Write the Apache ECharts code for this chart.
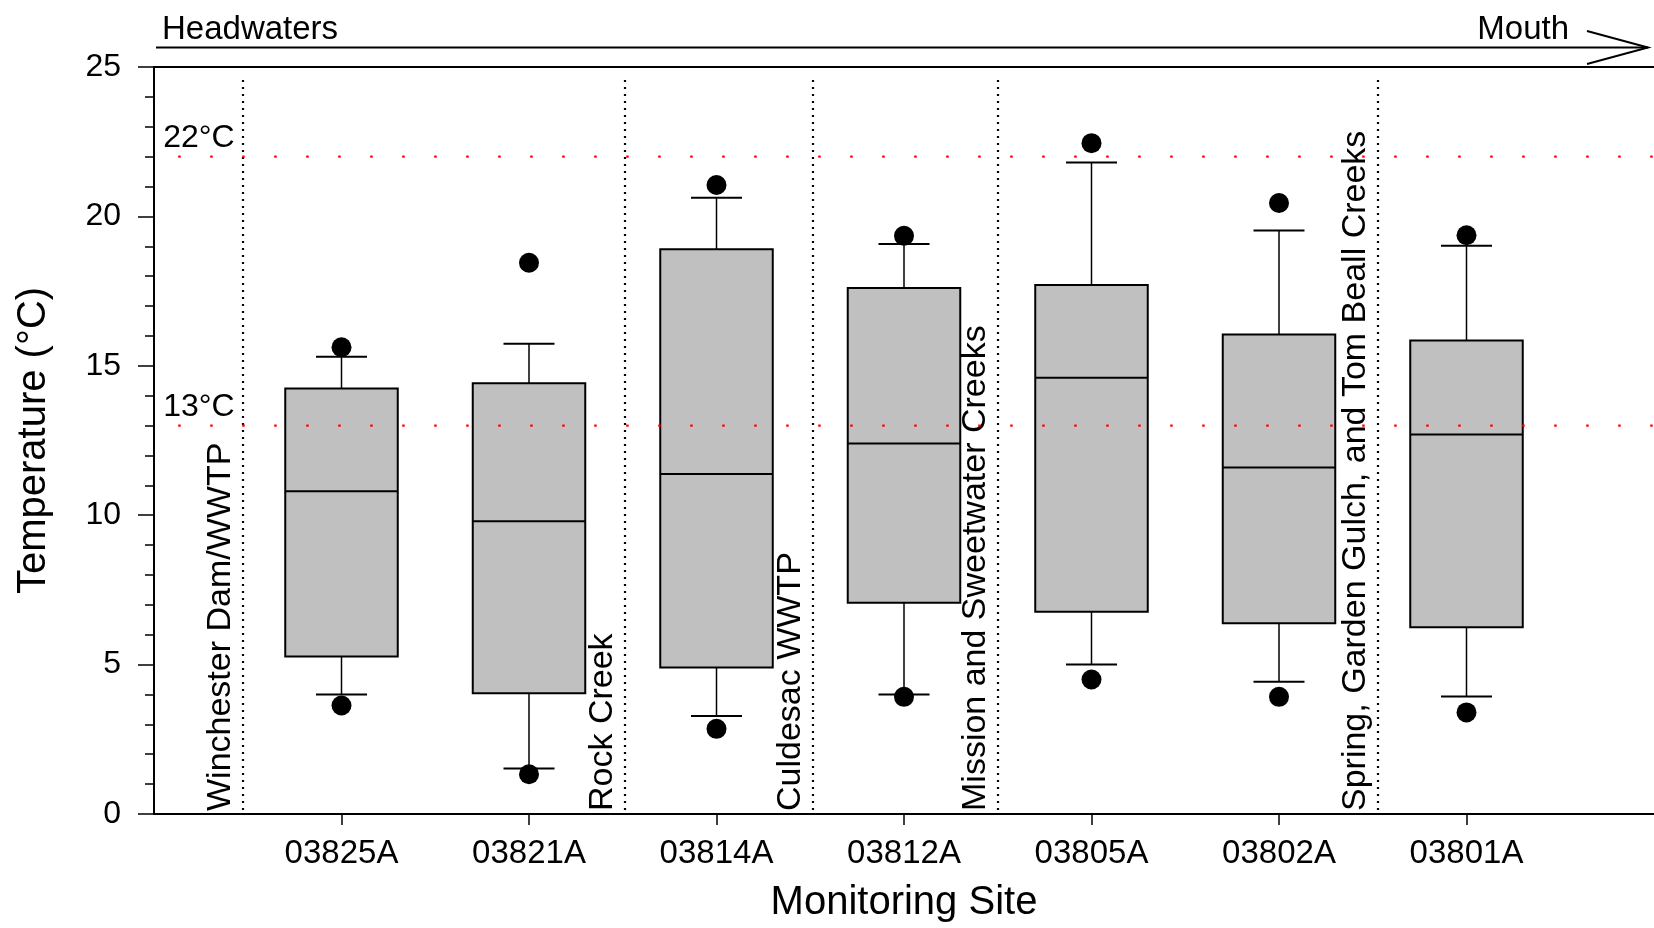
<!DOCTYPE html>
<html>
<head>
<meta charset="utf-8">
<title>Temperature by Monitoring Site</title>
<script src="https://cdn.jsdelivr.net/npm/echarts@6.0.0/dist/echarts.min.js"></script>
<style>
  html, body { margin: 0; padding: 0; background: #ffffff; }
  #chart { width: 1654px; height: 928px; }
</style>
</head>
<body>
<div id="chart"></div>
<script>
// Monitoring sites, ordered from headwaters to mouth
const sites = ['03825A', '03821A', '03814A', '03812A', '03805A', '03802A', '03801A'];

// Temperature summary (°C) for each site
const lowerDots   = [3.63, 1.33, 2.85, 3.92, 4.50, 3.92, 3.40];
const whiskerLow  = [4.00, 1.52, 3.28, 4.00, 5.00, 4.43, 3.93];
const quartile1   = [5.27, 4.04, 4.90, 7.07, 6.77, 6.38, 6.25];
const medians     = [10.80, 9.80, 11.38, 12.40, 14.60, 11.60, 12.70];
const quartile3   = [14.24, 14.42, 18.90, 17.60, 17.70, 16.05, 15.85];
const whiskerHigh = [15.30, 15.74, 20.62, 19.08, 21.80, 19.53, 19.02];
const upperDots   = [15.62, 18.45, 21.05, 19.35, 22.45, 20.45, 19.37];

// Tributaries / inputs entering between sites (position along the site axis)
const dividerPositions = [-0.523, 1.512, 2.513, 3.499, 5.530];
const dividerLabels = [
  'Winchester Dam/WWTP',
  'Rock Creek',
  'Culdesac WWTP',
  'Mission and Sweetwater Creeks',
  'Spring, Garden Gulch, and Tom Beall Creeks'
];

// Temperature criteria (°C)
const thresholds = [13, 22];

// Axis settings
const yTicks = [0, 5, 10, 15, 20, 25];
const X_MIN = -1, X_MAX = 7;
const THRESH_START = -0.871;

const FONT = "'Liberation Sans', Arial, Helvetica, sans-serif";
const BOX_W = 0.6;
const CAP_W = 0.272;

const chart = echarts.init(document.getElementById('chart'), null, { renderer: 'canvas' });

const boxData = sites.map((s, i) => [i, whiskerLow[i], quartile1[i], medians[i], quartile3[i], whiskerHigh[i]]);
const dotData = [];
sites.forEach((s, i) => { dotData.push([i, lowerDots[i]]); dotData.push([i, upperDots[i]]); });

function renderBox(params, api) {
  const i = api.value(0);
  const half = api.size([BOX_W, 0])[0] / 2;
  const capHalf = api.size([CAP_W, 0])[0] / 2;
  const pWl = api.coord([i, api.value(1)]);
  const pQ1 = api.coord([i, api.value(2)]);
  const pMed = api.coord([i, api.value(3)]);
  const pQ3 = api.coord([i, api.value(4)]);
  const pWh = api.coord([i, api.value(5)]);
  const cx = pMed[0];
  const thin = { stroke: '#000', lineWidth: 1.5 };
  const cap = { stroke: '#000', lineWidth: 2 };
  return {
    type: 'group',
    children: [
      { type: 'line', shape: { x1: cx, y1: pQ3[1], x2: cx, y2: pWh[1] }, style: thin },
      { type: 'line', shape: { x1: cx, y1: pQ1[1], x2: cx, y2: pWl[1] }, style: thin },
      { type: 'line', shape: { x1: cx - capHalf, y1: pWh[1], x2: cx + capHalf, y2: pWh[1] }, style: cap },
      { type: 'line', shape: { x1: cx - capHalf, y1: pWl[1], x2: cx + capHalf, y2: pWl[1] }, style: cap },
      { type: 'rect', shape: { x: cx - half, y: pQ3[1], width: 2 * half, height: pQ1[1] - pQ3[1] },
        style: { fill: '#c0c0c0', stroke: '#000', lineWidth: 2 } },
      { type: 'line', shape: { x1: cx - half, y1: pMed[1], x2: cx + half, y2: pMed[1] }, style: { stroke: '#000', lineWidth: 2 } }
    ]
  };
}

function renderDivider(params, api) {
  const pos = api.value(0);
  const k = api.value(1);
  const bottom = api.coord([pos, 0]);
  const top = api.coord([pos, 24.7]);
  const lx = Math.round(bottom[0]);
  return {
    type: 'group',
    children: [
      { type: 'line', shape: { x1: lx, y1: bottom[1] - 4, x2: lx, y2: top[1] },
        style: { stroke: '#000', lineWidth: 2.2, lineDash: [2, 5], lineCap: 'butt' } },
      { type: 'text', x: lx - 22.5, y: bottom[1] - 3, rotation: Math.PI / 2,
        style: { text: dividerLabels[k], fontSize: 34, fontFamily: FONT, fill: '#000',
                 align: 'left', verticalAlign: 'middle', textAlign: 'left', textVerticalAlign: 'middle' } }
    ]
  };
}

function renderThreshold(params, api) {
  const t = api.value(1);
  const start = api.coord([api.value(0), t]);
  const end = api.coord([api.value(2), t]);
  return {
    type: 'group',
    children: [
      { type: 'line', shape: { x1: start[0], y1: start[1], x2: end[0], y2: end[1] },
        style: { stroke: '#ff0000', lineWidth: 2.2, lineDash: [2.5, 29.5], lineCap: 'butt' } },
      { type: 'text', x: start[0] - 15, y: start[1] - 18.5,
        style: { text: t + '°C', fontSize: 32, fontFamily: FONT, fill: '#000',
                 align: 'left', verticalAlign: 'middle', textAlign: 'left', textVerticalAlign: 'middle' } }
    ]
  };
}

const option = {
  animation: false,
  backgroundColor: '#ffffff',
  textStyle: { fontFamily: FONT },
  grid: { left: 154, top: 67, width: 1502.4, height: 750, containLabel: false },
  xAxis: [
    {
      type: 'value', min: X_MIN, max: X_MAX, interval: 1,
      name: 'Monitoring Site', nameLocation: 'middle', nameGap: 69,
      nameTextStyle: { fontSize: 40, color: '#000', fontFamily: FONT },
      axisLine: { show: true, onZero: false, lineStyle: { color: '#000', width: 2 } },
      axisTick: { show: true, length: 11, customValues: sites.map((s, i) => i), lineStyle: { color: '#000', width: 1.5 } },
      axisLabel: { show: true, margin: 23, fontSize: 33, color: '#000', fontFamily: FONT,
                   customValues: sites.map((s, i) => i),
                   formatter: (v) => { const i = Math.round(v); return (i >= 0 && i < sites.length) ? sites[i] : ''; } },
      splitLine: { show: false }
    },
    {
      type: 'value', position: 'top', min: X_MIN, max: X_MAX,
      axisLine: { show: true, onZero: false, lineStyle: { color: '#000', width: 2 } },
      axisTick: { show: false }, axisLabel: { show: false }, splitLine: { show: false }
    }
  ],
  yAxis: {
    type: 'value', min: yTicks[0], max: yTicks[yTicks.length - 1], interval: 5,
    name: 'Temperature (°C)', nameLocation: 'middle', nameGap: 100,
    nameTextStyle: { fontSize: 40, color: '#000', fontFamily: FONT },
    axisLine: { show: true, onZero: false, lineStyle: { color: '#000', width: 2 } },
    axisTick: { show: true, length: 16, lineStyle: { color: '#000', width: 1.5 } },
    minorTick: { show: true, splitNumber: 5, length: 9, lineStyle: { color: '#000', width: 1.5 } },
    axisLabel: { margin: 33, fontSize: 32, color: '#000', fontFamily: FONT },
    splitLine: { show: false }
  },
  series: [
    {
      type: 'custom', name: 'boxes', renderItem: renderBox, data: boxData, z: 2,
      encode: { x: 0, y: [1, 2, 3, 4, 5] }, silent: true
    },
    {
      type: 'scatter', name: 'extremes', data: dotData, symbol: 'circle', symbolSize: 20, z: 3,
      itemStyle: { color: '#000', opacity: 1 }, silent: true
    },
    {
      type: 'custom', name: 'inputs', renderItem: renderDivider, z: 4, silent: true,
      data: dividerPositions.map((p, k) => [p, k]), encode: { x: 0, y: 1 }
    },
    {
      type: 'custom', name: 'criteria', renderItem: renderThreshold, z: 5, silent: true,
      data: thresholds.map((t) => [THRESH_START, t, X_MAX]), encode: { x: [0, 2], y: 1 }
    }
  ],
  graphic: [
    { type: 'text', x: 162, y: 30, style: { text: 'Headwaters', fontSize: 33, fontFamily: FONT, fill: '#000', align: 'left', verticalAlign: 'middle' } },
    { type: 'text', x: 1569, y: 30, style: { text: 'Mouth', fontSize: 33, fontFamily: FONT, fill: '#000', align: 'right', verticalAlign: 'middle' } },
    { type: 'line', shape: { x1: 156, y1: 47.5, x2: 1648, y2: 47.5 }, style: { stroke: '#000', lineWidth: 2 } },
    { type: 'polyline', shape: { points: [[1587, 31], [1648, 47.5], [1587, 64]] }, style: { stroke: '#000', lineWidth: 2, fill: null } }
  ]
};

chart.setOption(option);
</script>
</body>
</html>
